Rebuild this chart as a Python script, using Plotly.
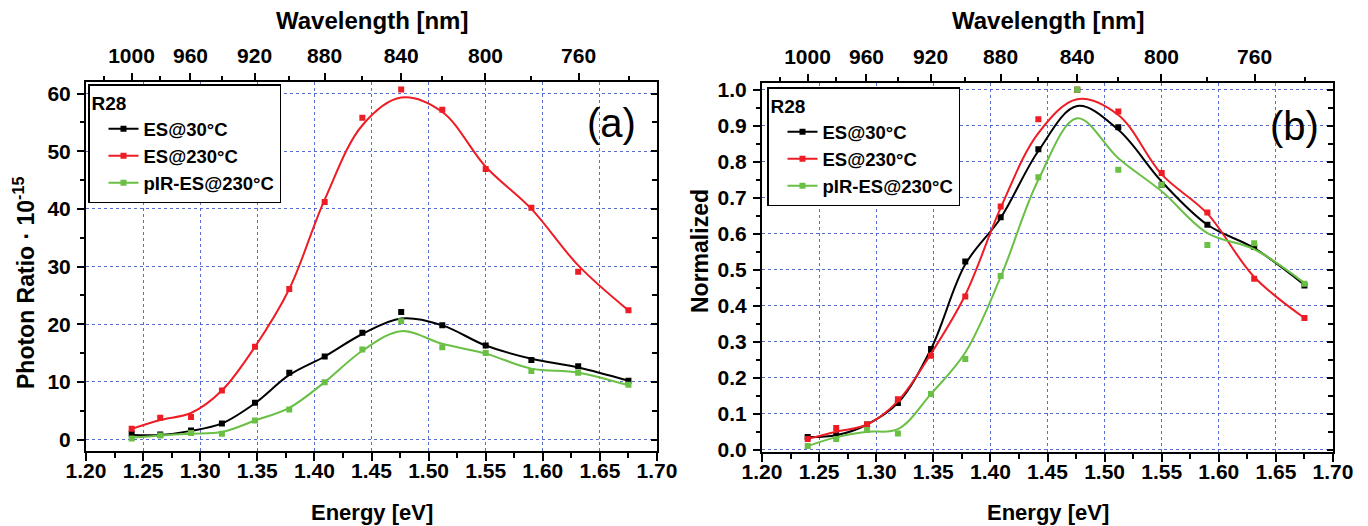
import plotly.graph_objects as go

# ---------------- data ----------------
energy = [1.240, 1.265, 1.292, 1.319, 1.348, 1.378, 1.409, 1.442, 1.476, 1.512, 1.550, 1.590, 1.631, 1.675]

# panel (a): Photon ratio * 1e-15 (measured points)
a_es30 = [1.0, 0.87, 1.56, 2.8, 6.4, 11.6, 14.4, 18.5, 22.1, 19.8, 16.3, 13.8, 12.7, 10.2]
a_es230 = [1.85, 3.8, 3.9, 8.5, 16.1, 26.1, 41.2, 55.8, 60.7, 57.2, 46.9, 40.2, 29.1, 22.4]
a_pir = [0.2, 0.7, 1.15, 1.0, 3.3, 5.2, 9.95, 15.6, 20.5, 16.0, 15.0, 11.9, 11.6, 9.5]
# panel (a): smoothed curves read at the same energies
a_es30_fit = [0.8, 0.8, 1.5, 2.8, 6.3, 11.2, 14.4, 18.3, 21.0, 19.8, 16.3, 14.0, 12.5, 10.2]
a_es230_fit = [1.85, 3.4, 4.6, 8.5, 16.1, 26.1, 41.6, 54.5, 59.3, 56.8, 47.3, 40.0, 30.2, 22.4]
a_pir_fit = [0.3, 0.7, 1.0, 1.3, 3.3, 5.5, 9.95, 15.4, 18.8, 16.6, 14.9, 12.3, 11.6, 9.4]

# panel (b): normalized (measured points)
b_es30 = [0.035, 0.04, 0.07, 0.13, 0.28, 0.523, 0.646, 0.835, 1.0, 0.896, 0.736, 0.625, 0.563, 0.456]
b_es230 = [0.03, 0.06, 0.07, 0.14, 0.261, 0.426, 0.676, 0.918, 1.0, 0.940, 0.769, 0.659, 0.475, 0.366]
b_pir = [0.01, 0.03, 0.055, 0.045, 0.155, 0.252, 0.483, 0.757, 1.0, 0.778, 0.736, 0.569, 0.574, 0.461]
# panel (b): smoothed curves read at the same energies
b_es30_fit = [0.035, 0.04, 0.07, 0.13, 0.28, 0.515, 0.644, 0.83, 0.955, 0.889, 0.745, 0.625, 0.56, 0.458]
b_es230_fit = [0.03, 0.05, 0.07, 0.135, 0.267, 0.43, 0.672, 0.88, 0.974, 0.93, 0.765, 0.656, 0.48, 0.366]
b_pir_fit = [0.01, 0.035, 0.05, 0.057, 0.155, 0.27, 0.48, 0.75, 0.921, 0.81, 0.718, 0.602, 0.557, 0.463]

series_names = ["ES@30°C", "ES@230°C", "pIR-ES@230°C"]
colors = ["#000000", "#EE1D25", "#6ABF45"]

# tick labels
x_ticks = [1.20, 1.25, 1.30, 1.35, 1.40, 1.45, 1.50, 1.55, 1.60, 1.65, 1.70]
x_ticklabels = ["1.20", "1.25", "1.30", "1.35", "1.40", "1.45", "1.50", "1.55", "1.60", "1.65", "1.70"]
ya_ticks = [0, 10, 20, 30, 40, 50, 60]
ya_ticklabels = ["0", "10", "20", "30", "40", "50", "60"]
yb_ticks = [0.0, 0.1, 0.2, 0.3, 0.4, 0.5, 0.6, 0.7, 0.8, 0.9, 1.0]
yb_ticklabels = ["0.0", "0.1", "0.2", "0.3", "0.4", "0.5", "0.6", "0.7", "0.8", "0.9", "1.0"]
wl_major = [1000, 960, 920, 880, 840, 800, 760]
wl_minor = [1020, 980, 940, 900, 860, 820, 780, 740]
HC = 1239.84  # eV*nm, wavelength -> energy scale for the top axis

# ---------------- layout helpers ----------------
W, H = 1368, 526
def px(x):
    return x / W
def py(y):
    return 1 - y / H

FONT = "Liberation Sans, Arial, sans-serif"
tickfont = dict(family=FONT, size=21, color="black")
gridcol = "rgba(60,85,200,0.85)"
def bold(lst):
    return ["<b>%s</b>" % s for s in lst]

fig = go.Figure()

panels = [
    ("x", "y", "legend", [a_es30, a_es230, a_pir], [a_es30_fit, a_es230_fit, a_pir_fit]),
    ("x3", "y3", "legend2", [b_es30, b_es230, b_pir], [b_es30_fit, b_es230_fit, b_pir_fit]),
]
for xa, ya, lg, pts, fits in panels:
    for name, col, p, f in zip(series_names, colors, pts, fits):
        fig.add_trace(go.Scatter(x=energy, y=f, xaxis=xa, yaxis=ya, mode="lines",
                                 line=dict(color=col, width=2, shape="spline", smoothing=1.0),
                                 showlegend=False, hoverinfo="skip"))
        fig.add_trace(go.Scatter(x=energy, y=p, xaxis=xa, yaxis=ya, mode="markers",
                                 marker=dict(color=col, symbol="square", size=6),
                                 showlegend=False, name=name))
        fig.add_trace(go.Scatter(x=[None], y=[None], xaxis=xa, yaxis=ya, mode="lines+markers",
                                 line=dict(color=col, width=2),
                                 marker=dict(color=col, symbol="square", size=6),
                                 name=name, legend=lg, showlegend=True))

# empty traces so that the secondary (top / right) axes are drawn
for xa, ya in [("x2", "y"), ("x", "y2"), ("x4", "y3"), ("x3", "y4")]:
    fig.add_trace(go.Scatter(x=[None], y=[None], xaxis=xa, yaxis=ya, mode="lines",
                             showlegend=False, hoverinfo="skip"))

dom_a = [px(86), px(657)]
dom_b = [px(762), px(1333)]
ydom_a = [py(450.5), py(82)]
ydom_b = [py(451.5), py(83)]

def bottom_axis(domain, anchor):
    return dict(domain=domain, anchor=anchor, range=[1.2, 1.7], automargin=False,
                tickmode="array", tickvals=x_ticks, ticktext=bold(x_ticklabels),
                ticks="outside", ticklen=8, tickwidth=2, tickcolor="black",
                showline=True, linewidth=2, linecolor="black", mirror=False,
                showgrid=True, gridcolor=gridcol, griddash="dot", gridwidth=1,
                zeroline=False, tickfont=tickfont, ticklabelstandoff=-8,
                minor=dict(dtick=0.025, tick0=1.2, ticks="outside", ticklen=5, tickwidth=1.5,
                           tickcolor="black", showgrid=False))

def top_axis(domain, anchor, overlay):
    return dict(domain=domain, anchor=anchor, overlaying=overlay, side="top", range=[1.2, 1.7],
                automargin=False,
                tickmode="array", tickvals=[HC / w for w in wl_major], ticktext=bold([str(w) for w in wl_major]),
                ticks="outside", ticklen=7, tickwidth=2, tickcolor="black",
                showline=True, linewidth=2, linecolor="black", showgrid=False, zeroline=False,
                tickfont=tickfont, ticklabelstandoff=2,
                minor=dict(tickmode="array", tickvals=[HC / w for w in wl_minor], ticks="outside",
                           ticklen=4, tickwidth=1.5, tickcolor="black", showgrid=False))

def left_axis(domain, anchor, rng, tv, tt, dtick):
    return dict(domain=domain, anchor=anchor, range=rng, automargin=False,
                tickmode="array", tickvals=tv, ticktext=bold(tt),
                ticks="outside", ticklen=7, tickwidth=2, tickcolor="black",
                showline=True, linewidth=2, linecolor="black",
                showgrid=True, gridcolor=gridcol, griddash="dot", gridwidth=1, zeroline=False,
                tickfont=tickfont, ticklabelstandoff=2,
                minor=dict(dtick=dtick / 2, tick0=0, ticks="outside", ticklen=4, tickwidth=1.5,
                           tickcolor="black", showgrid=False))

def right_axis(domain, anchor, overlay, rng, dtick):
    return dict(domain=domain, anchor=anchor, overlaying=overlay, side="right", range=rng,
                automargin=False,
                dtick=dtick, tick0=0, ticks="inside", ticklen=6, tickwidth=1.5, tickcolor="black",
                showticklabels=False, showline=True, linewidth=2, linecolor="black",
                showgrid=False, zeroline=False,
                minor=dict(dtick=dtick / 2, tick0=0, ticks="inside", ticklen=5, tickwidth=1.5,
                           tickcolor="black", showgrid=False))

yr_a = [-1.9, 62.0]
yr_b = [-0.005, 1.019]

legend_common = dict(bgcolor="white", bordercolor="black", borderwidth=1.5,
                     font=dict(family=FONT, size=18.5, color="black", weight="bold"),
                     xanchor="left", yanchor="top", tracegroupgap=0, itemwidth=30,
                     indentation=14)

fig.update_layout(
    template="none",
    width=W, height=H, margin=dict(l=0, r=0, t=0, b=0, pad=0, autoexpand=False),
    paper_bgcolor="white", plot_bgcolor="white",
    xaxis=bottom_axis(dom_a, "y"),
    xaxis2=top_axis(dom_a, "y", "x"),
    yaxis=left_axis(ydom_a, "x", yr_a, ya_ticks, ya_ticklabels, 10),
    yaxis2=right_axis(ydom_a, "x", "y", yr_a, 10),
    xaxis3=bottom_axis(dom_b, "y3"),
    xaxis4=top_axis(dom_b, "y3", "x3"),
    yaxis3=left_axis(ydom_b, "x3", yr_b, yb_ticks, yb_ticklabels, 0.1),
    yaxis4=right_axis(ydom_b, "x3", "y3", yr_b, 0.1),
    legend=dict(x=px(88), y=py(84), title=dict(text="<b>R28</b>", font=dict(family=FONT, size=19)),
                **legend_common),
    legend2=dict(x=px(767), y=py(87), title=dict(text="<b>R28</b>", font=dict(family=FONT, size=19)),
                 **legend_common),
    showlegend=True,
)

title_font = dict(family=FONT, size=24, color="black")
ann_font = dict(family=FONT, size=22, color="black")
annotations = [
    dict(text="<b>Wavelength [nm]</b>", x=(px(86) + px(657)) / 2, y=py(21), font=title_font),
    dict(text="<b>Wavelength [nm]</b>", x=(px(762) + px(1333)) / 2, y=py(21), font=title_font),
    dict(text="<b>Energy [eV]</b>", x=(px(86) + px(657)) / 2, y=py(512), font=ann_font),
    dict(text="<b>Energy [eV]</b>", x=(px(762) + px(1333)) / 2, y=py(512), font=ann_font),
]
for a in annotations:
    a.update(xref="paper", yref="paper", showarrow=False, xanchor="center", yanchor="middle")
annotations += [
    dict(text="<b>Photon Ratio · 10<sup>-15</sup></b>", x=px(24), y=py(283), textangle=-90,
         xref="paper", yref="paper", showarrow=False, font=dict(family=FONT, size=23, color="black"),
         xanchor="center", yanchor="middle"),
    dict(text="<b>Normalized</b>", x=px(700), y=py(251), textangle=-90,
         xref="paper", yref="paper", showarrow=False, font=dict(family=FONT, size=23, color="black"),
         xanchor="center", yanchor="middle"),
    dict(text="(a)", x=px(611), y=py(123), xref="paper", yref="paper", showarrow=False,
         font=dict(family=FONT, size=40, color="black"), xanchor="center", yanchor="middle"),
    dict(text="(b)", x=px(1294), y=py(126), xref="paper", yref="paper", showarrow=False,
         font=dict(family=FONT, size=40, color="black"), xanchor="center", yanchor="middle"),
]
fig.update_layout(annotations=annotations)

fig.write_html("out.html", config={"displayModeBar": False},
               post_script="document.body.style.margin='0';document.body.style.overflow='hidden';")
